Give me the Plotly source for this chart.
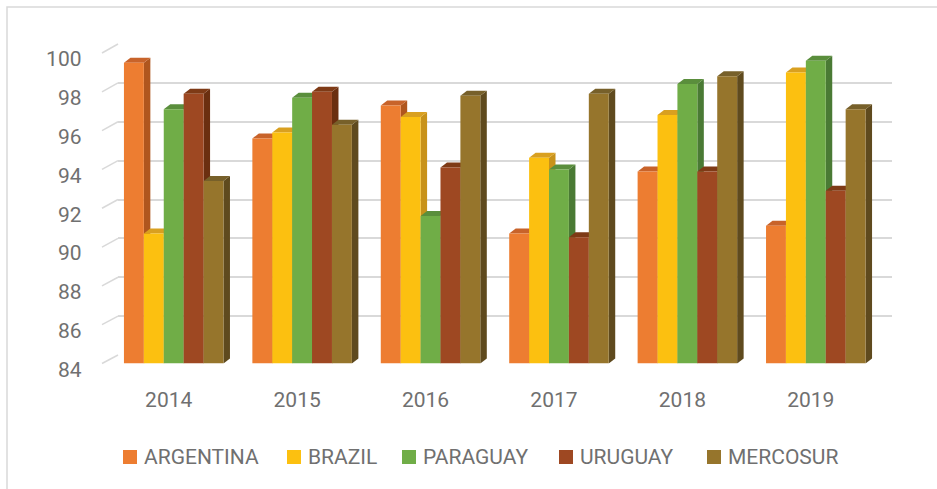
import plotly.graph_objects as go

years = ["2014", "2015", "2016", "2017", "2018", "2019"]
series_names = ["ARGENTINA", "BRAZIL", "PARAGUAY", "URUGUAY", "MERCOSUR"]
argentina = [99.5, 95.6, 97.3, 90.7, 93.9, 91.1]
brazil = [90.7, 95.9, 96.7, 94.6, 96.8, 99.0]
paraguay = [97.1, 97.7, 91.6, 94.0, 98.4, 99.6]
uruguay = [97.9, 98.0, 94.1, 90.5, 93.9, 92.9]
mercosur = [93.4, 96.3, 97.8, 97.9, 98.8, 97.1]
y_ticks = [84, 86, 88, 90, 92, 94, 96, 98, 100]

values = [argentina, brazil, paraguay, uruguay, mercosur]
front_colors = ["#ED7D31", "#FCC010", "#70AD47", "#9E4822", "#96752C"]
side_colors = ["#B0561E", "#C8921A", "#4A7A34", "#6B2F10", "#5F4A1E"]
top_colors = ["#C8632A", "#D9A020", "#5A8E3C", "#7E3A16", "#77602A"]

W, H = 937, 489
FONT = "Roboto"
TXT = "#707070"
GRID = "#D9D9D9"

# pixel geometry (layout)
front_l, front_r = 109.5, 880.0
front_top, front_bot = 53.0, 363.5
back_l, back_r = 118.0, 892.0
back_top, back_bot = 44.0, 355.0
label_dy = 6.0
legend_x = [123, 287, 402, 559, 707]
legend_y = 457
ymin, ymax = 84, 100
bargap = 0.225
n = len(series_names)
bw = (1 - bargap) / n
dx_px, dy_px = 6.5, 5.0
ux = (front_r - front_l) / len(years)
uy = (front_bot - front_top) / (ymax - ymin)
ddx = dx_px / ux
ddy = dy_px / uy

def px(x):
    return x / W

def py(y):
    return 1 - y / H

fig = go.Figure()

# back-wall gridlines subplot
fig.add_trace(go.Scatter(x=[], y=[], xaxis="x", yaxis="y", showlegend=False, hoverinfo="skip"))

xs = list(range(len(years)))
for k in range(n):
    fig.add_trace(go.Bar(
        x=xs, y=[v - ymin for v in values[k]], base=ymin, name=series_names[k],
        marker=dict(color=front_colors[k], line=dict(width=0)),
        xaxis="x2", yaxis="y2", showlegend=False,
    ))

# value-axis labels subplot (slightly below the front plane, as in the 3D original)
fig.add_trace(go.Scatter(x=[], y=[], xaxis="x3", yaxis="y3", showlegend=False, hoverinfo="skip"))

shapes = []
annotations = []
# 3D side and top faces
for k in range(n):
    for i, v in enumerate(values[k]):
        xl = i - (1 - bargap) / 2 + bw * k
        xr = xl + bw
        side = f"M{xr},{ymin} L{xr + ddx},{ymin + ddy} L{xr + ddx},{v + ddy} L{xr},{v} Z"
        top = f"M{xl},{v} L{xr},{v} L{xr + ddx},{v + ddy} L{xl + ddx},{v + ddy} Z"
        shapes.append(dict(type="path", path=side, xref="x2", yref="y2", layer="below",
                           fillcolor=side_colors[k], line=dict(width=0)))
        shapes.append(dict(type="path", path=top, xref="x2", yref="y2", layer="below",
                           fillcolor=top_colors[k], line=dict(width=0)))

# diagonal tick connectors from front axis to back wall
for t in y_ticks:
    yf = front_bot - (t - ymin) * uy
    yb = back_bot - (t - ymin) * (back_bot - back_top) / (ymax - ymin)
    shapes.append(dict(type="line", xref="paper", yref="paper",
                       x0=px(102), y0=py(yf), x1=px(back_l), y1=py(yb),
                       line=dict(color=GRID, width=1.5)))

# legend (squares + real text)
for k in range(n):
    x0 = legend_x[k]
    shapes.append(dict(type="rect", xref="paper", yref="paper",
                       x0=px(x0), x1=px(x0 + 14), y0=py(legend_y + 7), y1=py(legend_y - 7),
                       fillcolor=front_colors[k], line=dict(width=0)))
    annotations.append(dict(text=series_names[k], xref="paper", yref="paper",
                            x=px(x0 + 19), y=py(legend_y), xanchor="left", yanchor="middle",
                            showarrow=False, font=dict(family=FONT, size=21, color=TXT)))

# outer chart border
shapes.append(dict(type="rect", xref="paper", yref="paper",
                   x0=px(7), x1=1.05, y0=-0.05, y1=py(7),
                   line=dict(color=GRID, width=1.5), fillcolor="rgba(0,0,0,0)"))

fig.update_layout(
    width=W, height=H,
    margin=dict(l=0, r=0, t=0, b=0, autoexpand=False),
    paper_bgcolor="white", plot_bgcolor="rgba(0,0,0,0)",
    barmode="group", bargap=bargap, bargroupgap=0,
    font=dict(family=FONT, size=21, color=TXT),
    shapes=shapes, annotations=annotations,
    xaxis=dict(domain=[px(back_l), px(back_r)], range=[0, 1], visible=False, anchor="y"),
    yaxis=dict(domain=[py(back_bot), py(back_top)], range=[ymin, ymax], tickvals=y_ticks,
               showgrid=True, gridcolor=GRID, gridwidth=2, showticklabels=False,
               zeroline=False, showline=False, ticks="", anchor="x"),
    xaxis2=dict(domain=[px(front_l), px(front_r)], range=[-0.5, len(years) - 0.5],
                tickvals=xs, ticktext=years, showgrid=False, zeroline=False, showline=False,
                ticks="", anchor="y2", ticklabelshift=-5, ticklabelstandoff=21),
    yaxis2=dict(domain=[py(front_bot), py(front_top)], range=[ymin, ymax],
                showgrid=False, zeroline=False, showline=False, ticks="", anchor="x2",
                showticklabels=False),
    xaxis3=dict(domain=[px(front_l), px(front_r)], range=[0, 1], visible=False, anchor="y3"),
    yaxis3=dict(domain=[py(front_bot + label_dy), py(front_top + label_dy)], range=[ymin, ymax],
                tickvals=y_ticks, showgrid=False, zeroline=False, showline=False, ticks="",
                anchor="x3", ticklabelstandoff=27),
    showlegend=False,
)

fig.write_html("out.html", config={"displayModeBar": False},
               post_script="document.body.style.margin='0';")
